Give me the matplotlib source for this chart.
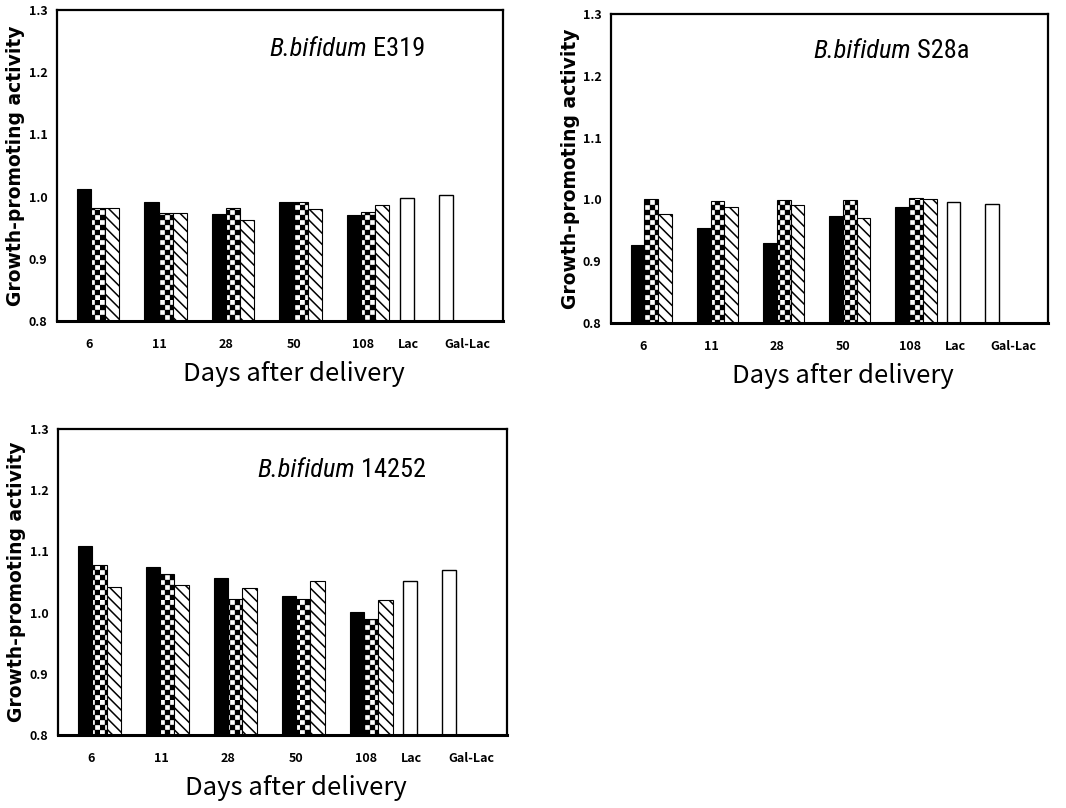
import warnings
import numpy as np
import matplotlib
matplotlib.use('Agg')
import matplotlib.pyplot as plt
from matplotlib import hatch as mhatch
from matplotlib.path import Path

warnings.filterwarnings('ignore')

# x categories
day_labels = ['6', '11', '28', '50', '108']
ref_labels = ['Lac', 'Gal-Lac']

# B.bifidum E319
e319_black = [1.013, 0.991, 0.972, 0.991, 0.970]
e319_check = [0.981, 0.974, 0.982, 0.992, 0.976]
e319_hatch = [0.981, 0.974, 0.963, 0.980, 0.987]
e319_ref = [0.998, 1.003]

# B.bifidum S28a
s28a_black = [0.927, 0.954, 0.930, 0.973, 0.987]
s28a_check = [1.001, 0.997, 0.999, 0.999, 1.002]
s28a_hatch = [0.977, 0.987, 0.991, 0.970, 1.000]
s28a_ref = [0.996, 0.993]

# B.bifidum 14252
b14252_black = [1.109, 1.074, 1.057, 1.028, 1.001]
b14252_check = [1.078, 1.063, 1.022, 1.022, 0.990]
b14252_hatch = [1.042, 1.045, 1.040, 1.051, 1.021]
b14252_ref = [1.052, 1.070]

yticks = [0.8, 0.9, 1.0, 1.1, 1.2, 1.3]


# checkerboard hatch, selected with the letter 'c'
class CheckerHatch(mhatch.HatchPatternBase):
    def __init__(self, hatch, density):
        self.n = hatch.count('c') * 10
        self.cells = [(i, j) for i in range(self.n) for j in range(self.n)
                      if (i + j) % 2 == 0]
        self.num_vertices = 5 * len(self.cells)

    def set_vertices_and_codes(self, vertices, codes):
        s = 1.0 / self.n
        m = 0.12 * s
        k = 0
        for i, j in self.cells:
            x0, y0 = i * s + m, j * s + m
            x1, y1 = (i + 1) * s - m, (j + 1) * s - m
            vertices[k:k + 5] = [(x0, y0), (x1, y0), (x1, y1), (x0, y1), (x0, y0)]
            codes[k] = Path.MOVETO
            codes[k + 1:k + 4] = Path.LINETO
            codes[k + 4] = Path.CLOSEPOLY
            k += 5


mhatch._hatch_types.append(CheckerHatch)

narrow = ['Noto Sans CJK JP', 'DejaVu Sans']
title_font = ['Roboto Condensed', 'Roboto', 'DejaVu Sans']
plt.rcParams['hatch.linewidth'] = 1.1

fig = plt.figure(figsize=(10.66, 8.08), dpi=100)

panels = [
    ([0.0535, 0.6027, 0.4185, 0.3849], 'E319', e319_black, e319_check, e319_hatch, e319_ref, (0.475, 0.875)),
    ([0.5732, 0.6002, 0.4099, 0.3825], 'S28a', s28a_black, s28a_check, s28a_hatch, s28a_ref, (0.462, 0.88)),
    ([0.0544, 0.0903, 0.4212, 0.3787], '14252', b14252_black, b14252_check, b14252_hatch, b14252_ref, (0.445, 0.866)),
]

w = 0.21
x = np.arange(len(day_labels))
ref_x = [4.57, 5.15]
label_x = [-0.13, 0.91, 1.9, 2.9, 3.92, 4.6, 5.47]

for rect, strain, blk, chk, hat, ref, tpos in panels:
    ax = fig.add_axes(rect)
    ax.bar(x - w, blk, w, color='black', edgecolor='black', linewidth=0.8)
    ax.bar(x, chk, w, color='white', edgecolor='black', hatch='cc', linewidth=0.8)
    ax.bar(x + w, hat, w, color='white', edgecolor='black', hatch='\\\\\\', linewidth=0.8)
    ax.bar(ref_x, ref, w, color='white', edgecolor='black', linewidth=1.0)

    ax.set_xlim(-0.61, 6.0)
    ax.set_ylim(0.8, 1.3)
    ax.set_yticks(yticks)
    ax.set_yticklabels(['%.1f' % v for v in yticks], family=narrow,
                       fontweight='bold', fontsize=9)
    ax.set_xticks(label_x)
    ax.set_xticklabels(day_labels + ref_labels, family=narrow,
                       fontweight='bold', fontsize=9)
    ax.tick_params(axis='both', length=0)
    ax.tick_params(axis='x', pad=12)
    ax.tick_params(axis='y', pad=7)
    for sp in ax.spines.values():
        sp.set_linewidth(1.6)
    ax.spines['bottom'].set_linewidth(2.2)

    ax.set_ylabel('Growth-promoting activity', fontsize=13.5, fontweight='semibold')
    ax.yaxis.set_label_coords(-0.072, 0.5)
    ax.set_xlabel('Days after delivery', family=narrow, fontsize=18.5)
    ax.xaxis.set_label_coords(0.53, -0.13)

    t1 = ax.text(tpos[0], tpos[1], 'B.bifidum', transform=ax.transAxes,
                 family=title_font, style='italic', fontsize=19, va='center')
    ax.annotate(' ' + strain, xy=(1, 0), xycoords=t1, va='bottom',
                family=title_font, fontsize=19)

fig.savefig('out.png', dpi=100)
